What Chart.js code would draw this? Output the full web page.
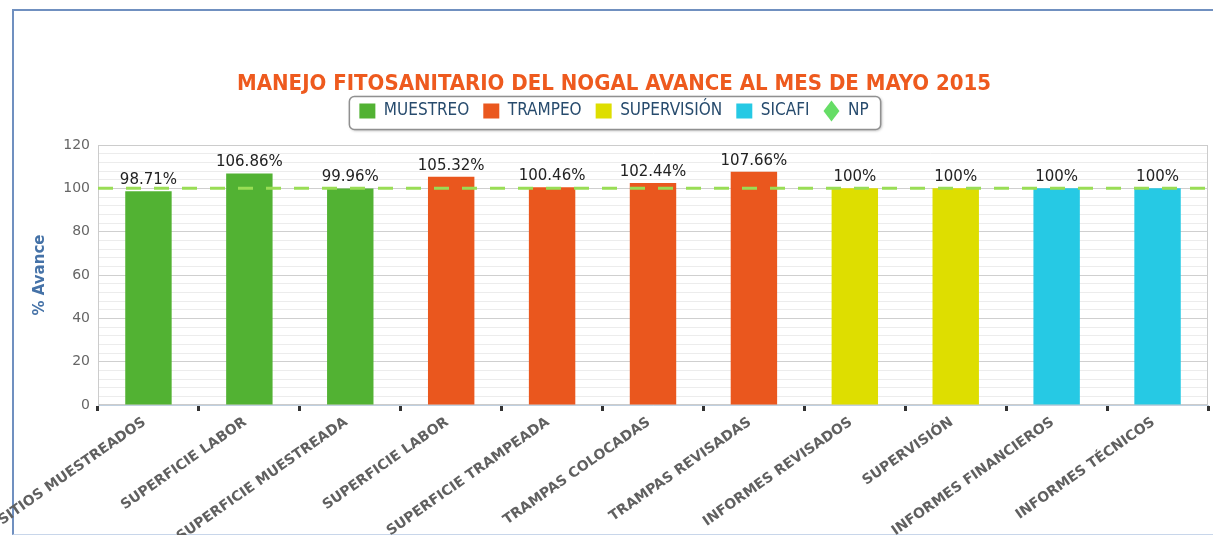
<!DOCTYPE html>
<html lang="es">
<head>
<meta charset="UTF-8">
<title>Manejo Fitosanitario del Nogal</title>
<script src="https://cdn.jsdelivr.net/npm/chart.js"></script>
<style>
  body { margin: 0; background: #fff; }
  #marco {
    position: absolute; left: 12px; top: 9px; width: 1300px; height: 523px;
    border-left: 2px solid #7090c0; border-top: 2px solid #7090c0; border-bottom: 1px solid #c8d6ea;
  }
  #grafica { position: absolute; left: 0; top: 0; }
</style>
</head>
<body>
<div id="marco"></div>
<canvas id="grafica" width="1213" height="535"></canvas>
<script>
// datos
var categorias = ['SITIOS MUESTREADOS', 'SUPERFICIE LABOR', 'SUPERFICIE MUESTREADA', 'SUPERFICIE LABOR',
  'SUPERFICIE TRAMPEADA', 'TRAMPAS COLOCADAS', 'TRAMPAS REVISADAS', 'INFORMES REVISADOS',
  'SUPERVISIÓN', 'INFORMES FINANCIEROS', 'INFORMES TÉCNICOS'];
var muestreo    = [98.71, 106.86, 99.96, null, null, null, null, null, null, null, null];
var trampeo     = [null, null, null, 105.32, 100.46, 102.44, 107.66, null, null, null, null];
var supervision = [null, null, null, null, null, null, null, 100, 100, null, null];
var sicafi      = [null, null, null, null, null, null, null, null, null, 100, 100];
var np = 100;

var condensada = '"DejaVu Sans Condensed", "DejaVu Sans", sans-serif';
Chart.defaults.font.family = '"DejaVu Sans", Verdana, sans-serif';

// porcentaje arriba de cada barra
var etiquetas = {
  id: 'etiquetas',
  afterDatasetsDraw: function(chart) {
    var ctx = chart.ctx;
    ctx.save();
    ctx.font = '15px "DejaVu Sans"';
    ctx.fillStyle = '#222';
    ctx.textAlign = 'center';
    ctx.textBaseline = 'alphabetic';
    chart.data.datasets.forEach(function(ds, i) {
      if (ds.type === 'line') return;
      chart.getDatasetMeta(i).data.forEach(function(bar, j) {
        var v = ds.data[j];
        if (v == null) return;
        ctx.fillText(v + '%', bar.x, bar.y - 7);
      });
    });
    ctx.restore();
  }
};

// caja de la leyenda y borde del area de trazado
var marcos = {
  id: 'marcos',
  beforeDraw: function(chart) {
    var boxes = chart.legend.legendHitBoxes;
    if (!boxes || !boxes.length) return;
    var x1 = Infinity, x2 = -Infinity, y1 = Infinity, y2 = -Infinity;
    boxes.forEach(function(b) {
      x1 = Math.min(x1, b.left); x2 = Math.max(x2, b.left + b.width);
      y1 = Math.min(y1, b.top); y2 = Math.max(y2, b.top + b.height);
    });
    var ctx = chart.ctx;
    ctx.save();
    ctx.shadowColor = 'rgba(0,0,0,0.35)';
    ctx.shadowBlur = 3;
    ctx.shadowOffsetX = 1;
    ctx.shadowOffsetY = 1;
    ctx.fillStyle = '#fff';
    ctx.strokeStyle = '#909090';
    ctx.lineWidth = 1.5;
    ctx.beginPath();
    ctx.roundRect(x1 - 10, y1 - 6, x2 - x1 + 22, y2 - y1 + 16, 5);
    ctx.fill();
    ctx.shadowColor = 'transparent';
    ctx.stroke();
    ctx.restore();
  },
  beforeDatasetsDraw: function(chart) {
    var a = chart.chartArea, ctx = chart.ctx;
    ctx.save();
    ctx.strokeStyle = '#cccccc';
    ctx.lineWidth = 1;
    ctx.strokeRect(a.left + 0.5, a.top + 0.5, a.right - a.left - 1, a.bottom - a.top - 1);
    ctx.restore();
  }
};

var chart = new Chart(document.getElementById('grafica'), {
  type: 'bar',
  data: {
    labels: categorias,
    datasets: [
      { label: 'MUESTREO', data: muestreo, backgroundColor: '#52b233', pointStyle: 'rect' },
      { label: 'TRAMPEO', data: trampeo, backgroundColor: '#ea571e', pointStyle: 'rect' },
      { label: 'SUPERVISIÓN', data: supervision, backgroundColor: '#dede00', pointStyle: 'rect' },
      { label: 'SICAFI', data: sicafi, backgroundColor: '#26c9e4', pointStyle: 'rect' },
      {
        label: 'NP', type: 'line', xAxisID: 'x2', order: -1,
        data: [{ x: 0, y: np }, { x: 1, y: np }],
        borderColor: '#99dd55', backgroundColor: '#66dd66', borderWidth: 3,
        borderDash: [15, 13], pointRadius: 0, pointStyle: 'rectRot'
      }
    ]
  },
  options: {
    responsive: false,
    animation: false,
    layout: { padding: { left: 20, right: 5, top: 0, bottom: 0 } },
    datasets: {
      bar: { grouped: false, barPercentage: 0.46, categoryPercentage: 1 }
    },
    scales: {
      x: {
        grid: { offset: true, drawOnChartArea: false, tickLength: 6, tickWidth: 3, tickColor: '#333' },
        border: { color: '#c0d0e0' },
        ticks: {
          autoSkip: false, minRotation: 35, maxRotation: 35, padding: 3, labelOffset: -4,
          color: '#606060', font: { size: 14, weight: 'bold' }
        },
        afterFit: function(s) { s.height = 130; s.paddingLeft = 0; s.paddingRight = 0; }
      },
      x2: {
        type: 'linear', position: 'top', min: 0, max: 1, offset: false,
        ticks: { display: false },
        grid: { display: false, offset: false },
        border: { display: false },
        afterFit: function(s) { s.height = 15.5; s.paddingLeft = 0; s.paddingRight = 0; }
      },
      y: {
        min: 0, max: 120,
        ticks: {
          stepSize: 4, autoSkip: false, padding: 8, color: '#666', font: { size: 14 },
          callback: function(v) { return v % 20 === 0 ? v : ''; }
        },
        grid: {
          drawTicks: false,
          color: function(c) { return c.tick && c.tick.value % 20 === 0 ? '#cfcfcf' : '#ececec'; }
        },
        border: { color: '#cccccc' },
        title: {
          display: true, text: '% Avance', color: '#4572a7',
          font: { size: 15, weight: 'bold' }, padding: { top: 11, bottom: 0 }
        },
        afterFit: function(s) { s.width = 78; s.paddingTop = 0; s.paddingBottom = 0; }
      }
    },
    plugins: {
      title: {
        display: true,
        text: 'MANEJO FITOSANITARIO DEL NOGAL AVANCE AL MES DE MAYO 2015',
        color: '#ee5a1e',
        font: { family: condensada, size: 22, weight: 'bold', lineHeight: 1 },
        padding: { top: 73, bottom: -6.5 }
      },
      legend: {
        labels: {
          usePointStyle: true, pointStyleWidth: 16, boxHeight: 15, padding: 14,
          color: '#274b6d', font: { family: condensada, size: 17 },
          sort: function(a, b) { return a.datasetIndex - b.datasetIndex; },
          generateLabels: function(chart) {
            var items = Chart.defaults.plugins.legend.labels.generateLabels(chart);
            items.forEach(function(it) {
              it.lineWidth = 0;
              it.lineDash = [];
              it.strokeStyle = 'transparent';
            });
            return items;
          }
        }
      },
      tooltip: { enabled: false }
    }
  },
  plugins: [etiquetas, marcos]
});
</script>
</body>
</html>
